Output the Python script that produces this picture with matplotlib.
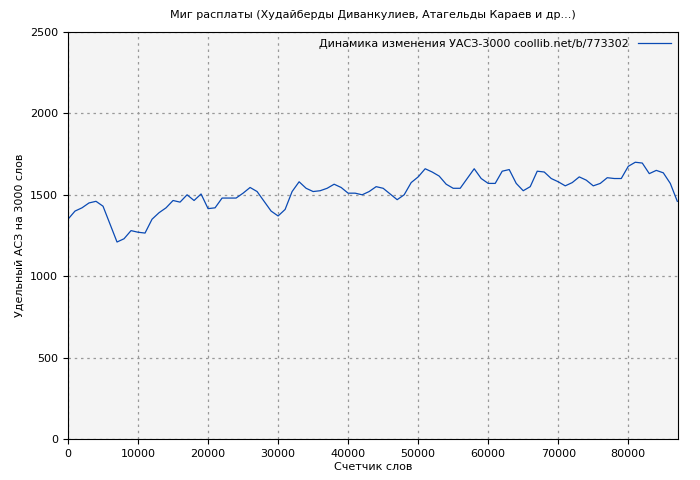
import matplotlib
matplotlib.use("Agg")
import matplotlib.pyplot as plt
import numpy as np

words = np.arange(0, 88000, 1000)
values = [
    1350, 1400, 1420, 1450, 1460, 1430, 1320, 1210, 1230, 1280,
    1270, 1265, 1350, 1390, 1420, 1465, 1455, 1500, 1465, 1505,
    1415, 1420, 1480, 1480, 1480, 1510, 1545, 1520, 1460, 1400,
    1370, 1410, 1520, 1580, 1540, 1520, 1525, 1540, 1565, 1545,
    1510, 1510, 1500, 1520, 1550, 1540, 1505, 1470, 1500, 1575,
    1610, 1660, 1640, 1615, 1565, 1540, 1540, 1600, 1660, 1600,
    1570, 1570, 1645, 1655, 1570, 1525, 1550, 1645, 1640, 1600,
    1580, 1555, 1575, 1610, 1590, 1555, 1570, 1605, 1600, 1600,
    1675, 1700, 1695, 1630, 1650, 1635, 1570, 1460,
]

plt.rcParams["font.family"] = ["Verdana", "DejaVu Sans"]
plt.rcParams["font.size"] = 8

fig = plt.figure(figsize=(7, 4.8), dpi=100)
ax = fig.add_axes([68 / 700, 41 / 480, 610 / 700, 407 / 480])
ax.set_facecolor("#f4f4f4")

ax.plot(words, values, color="#0a4ab4", linewidth=0.9,
        label="Динамика изменения УАСЗ-3000 coollib.net/b/773302")

ax.set_xlim(0, 87100)
ax.set_ylim(0, 2500)
ax.set_xticks(np.arange(0, 87000, 10000))
ax.set_yticks(np.arange(0, 2501, 500))
ax.grid(True, linestyle=(0, (2, 3)), color="#999999", linewidth=0.9)

ax.set_title("Миг расплаты (Худайберды Диванкулиев, Атагельды Караев и др...)",
             fontsize=8, pad=10)
ax.set_xlabel("Счетчик слов", labelpad=2)
ax.set_ylabel("Удельный АСЗ на 3000 слов")

ax.legend(loc="upper right", markerfirst=False, frameon=False,
          handlelength=3, borderaxespad=0.2)

fig.savefig("out.png")
